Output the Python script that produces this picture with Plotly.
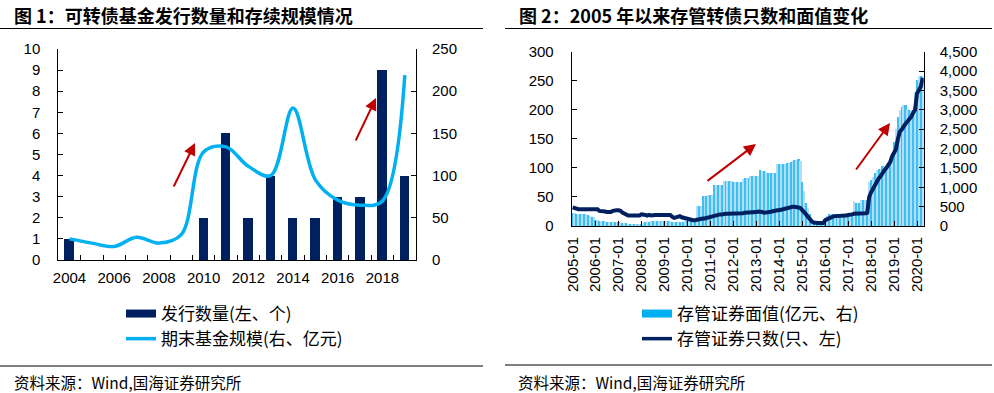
import plotly.graph_objects as go

# ---------------- Data: Figure 1 ----------------
years = list(range(2004, 2020))
issue_count = [1, 0, 0, 0, 0, 0, 2, 6, 2, 4, 2, 2, 3, 3, 9, 4]
fund_size = [25, 20, 16, 27, 20, 30, 128, 134, 111, 100, 180, 95, 71, 65, 70, 219]
year_ticks = [2004, 2006, 2008, 2010, 2012, 2014, 2016, 2018]

# ---------------- Data: Figure 2 ----------------
months = [f"{y}-{m:02d}" for y in range(2005, 2021) for m in range(1, 13)][:184]
month_ticks = [f"{y}-01" for y in range(2005, 2021)]

face_value = [
    335, 335, 330, 330, 325, 320, 315, 310, 300, 270, 250, 240,
    160, 150, 140, 130, 125, 120, 115, 112, 110, 110, 108, 105,
    100, 95, 90, 85, 80, 70, 60, 55, 50, 50, 48, 48,
    60, 80, 100, 110, 120, 125, 125, 125, 125, 125, 125, 125,
    125, 125, 125, 125, 120, 115, 110, 110, 110, 115, 120, 125,
    130, 130, 128, 125, 120, 520, 525, 530, 780, 785, 790, 800,
    810, 820, 1060, 1065, 1070, 1070, 1075, 1170, 1170, 1165, 1160, 1160,
    1155, 1150, 1140, 1140, 1140, 1230, 1240, 1250, 1260, 1290, 1290, 1290,
    1300, 1300, 1445, 1440, 1420, 1400, 1380, 1370, 1370, 1375, 1380, 1610,
    1610, 1615, 1620, 1620, 1630, 1640, 1660, 1680, 1700, 1720, 1745, 1690,
    1150, 900, 600, 480, 330, 160, 80, 30, 25, 25, 25, 30,
    200, 260, 320, 325, 330, 330, 330, 330, 330, 330, 330, 330,
    330, 330, 330, 645, 610, 600, 600, 670, 670, 670, 670, 1140,
    1200, 1280, 1380, 1445, 1480, 1490, 1550, 1540, 1560, 1580, 1600, 1900,
    2180, 2500, 2820, 3000, 3080, 3120, 3120, 3040, 3000, 2990, 3000, 3460,
    3780, 3870, 3870, 3870,
]

bond_count = [
    32, 31, 29, 29, 29, 29, 29, 29, 29, 29, 29, 29,
    29, 29, 26, 26, 25, 25, 24, 24, 24, 26, 27, 27,
    27, 26, 23, 21, 18, 18, 18, 18, 18, 18, 18, 18,
    20, 20, 19, 18, 19, 18, 19, 19, 19, 19, 19, 19,
    19, 19, 19, 19, 16, 14, 15, 16, 17, 15, 14, 13,
    12, 11, 11, 10, 10, 11, 11, 12, 13, 13, 14, 15,
    16, 16, 17, 18, 19, 20, 20, 21, 21, 21, 21, 22,
    22, 22, 22, 22, 22, 22, 23, 23, 23, 23, 23, 24,
    24, 25, 25, 24, 23, 23, 23, 24, 25, 26, 26, 27,
    27, 28, 29, 30, 31, 32, 32, 33, 33, 33, 32, 31,
    28, 24, 20, 16, 11, 8, 6, 5, 5, 5, 5, 5,
    10, 12, 14, 15, 16, 17, 17, 17, 17, 18, 18, 18,
    19, 19, 20, 21, 21, 21, 21, 22, 22, 22, 23, 50,
    58, 65, 72, 78, 82, 86, 92, 96, 100, 106, 110, 120,
    125, 132, 150, 162, 166, 172, 176, 180, 184, 188, 195, 200,
    228, 235, 240, 255,
]

# ---------------- Styling ----------------
W, H = 994, 393
NAVY = "#002060"
CYAN = "#00B0F0"
LIGHT = "#B0DDF7"
RED = "#C00000"
NUM_FONT = "Liberation Sans, Arial, sans-serif"
CJK_FONT = "Noto Sans CJK SC, sans-serif"

def px(x):
    return x / W

def py(y):
    return 1 - y / H

bar_colors = [("#3DBFF2" if i % 2 == 0 else LIGHT) for i in range(len(months))]

fig = go.Figure()
# actual marks
fig.add_trace(go.Bar(
    x=years, y=issue_count, name="发行数量(左、个)", marker=dict(color=NAVY, line_width=0),
    width=0.42, xaxis="x", yaxis="y", showlegend=False))
fig.add_trace(go.Scatter(
    x=years, y=fund_size, name="期末基金规模(右、亿元)", mode="lines",
    line=dict(color=CYAN, width=3.5, shape="spline", smoothing=1.0),
    xaxis="x", yaxis="y2", showlegend=False))
fig.add_trace(go.Bar(
    x=months, y=face_value, name="存管证券面值(亿元、右)",
    marker=dict(color=bar_colors, line_width=0),
    xaxis="x2", yaxis="y3", showlegend=False))
fig.add_trace(go.Scatter(
    x=months, y=bond_count, name="存管证券只数(只、左)", mode="lines",
    line=dict(color=NAVY, width=4),
    xaxis="x2", yaxis="y4", showlegend=False))

# legend proxies (wide rectangle swatches like the original)
legend_items = [
    ("发行数量(左、个)", NAVY, 8, "legend", "x", "y"),
    ("期末基金规模(右、亿元)", CYAN, 3.5, "legend", "x", "y2"),
    ("存管证券面值(亿元、右)", CYAN, 8, "legend2", "x2", "y3"),
    ("存管证券只数(只、左)", NAVY, 3.5, "legend2", "x2", "y4"),
]
for i, (name, color, w, lg, xa, ya) in enumerate(legend_items):
    fig.add_trace(go.Scatter(x=[None], y=[None], name=name, mode="lines",
                             line=dict(color=color, width=w), legend=lg,
                             legendgroup=f"g{i}", xaxis=xa, yaxis=ya, showlegend=True))

tickfont = dict(family=NUM_FONT, size=15, color="black")
common = dict(showline=True, linecolor="black", linewidth=1, showgrid=False,
              zeroline=False, tickfont=tickfont, tickcolor="black", automargin=False)

fig.update_layout(
    width=W, height=H, margin=dict(l=0, r=0, t=0, b=0, autoexpand=False),
    paper_bgcolor="white", plot_bgcolor="white", bargap=0,
    showlegend=True,
    xaxis=dict(domain=[px(58.3), px(416)], anchor="y", range=[2003.5, 2019.5],
               tickmode="array", tickvals=year_ticks, ticks="",
               minor=dict(tickmode="array", tickvals=[y + 0.5 for y in years[:-1]],
                          ticks="inside", ticklen=5, tickcolor="black", showgrid=False),
               ticklabelstandoff=4, **common),
    yaxis=dict(domain=[py(260), py(49)], anchor="x", range=[0, 10], dtick=1,
               ticks="inside", ticklen=5, side="left", ticklabelstandoff=14, **common),
    yaxis2=dict(overlaying="y", anchor="x", side="right", range=[0, 250], dtick=50,
                ticks="inside", ticklen=5, ticklabelstandoff=12, **common),
    xaxis2=dict(domain=[px(571.7), px(923.7)], anchor="y3", type="category",
                range=[-0.5, 183.5], tickmode="array", tickvals=month_ticks,
                tickangle=-90, ticks="inside", ticklen=5, ticklabelstandoff=4, **common),
    yaxis3=dict(domain=[py(226), py(51.7)], anchor="x2", side="right", range=[0, 4500],
                dtick=500, tickformat=",", ticks="inside", ticklen=5,
                ticklabelstandoff=12, **common),
    yaxis4=dict(overlaying="y3", anchor="x2", side="left", range=[0, 300], dtick=50,
                ticks="inside", ticklen=5, ticklabelstandoff=14, **common),
    legend=dict(x=px(121), y=py(296), xanchor="left", yanchor="top",
                font=dict(family=CJK_FONT, size=17, color="black"),
                bgcolor="rgba(0,0,0,0)", traceorder="normal", tracegroupgap=8,
                itemwidth=30),
    legend2=dict(x=px(637), y=py(296), xanchor="left", yanchor="top",
                 font=dict(family=CJK_FONT, size=17, color="black"),
                 bgcolor="rgba(0,0,0,0)", traceorder="normal", tracegroupgap=8,
                 itemwidth=30),
)

annotations = [
    dict(text="<b>图 1：可转债基金发行数量和存续规模情况</b>", x=px(12), y=py(15)),
    dict(text="<b>图 2：2005 年以来存管转债只数和面值变化</b>", x=px(517), y=py(15)),
]
anns = []
for a in annotations:
    anns.append(dict(text=a["text"], x=a["x"], y=a["y"], xref="paper", yref="paper",
                     xanchor="left", yanchor="middle", showarrow=False,
                     font=dict(family=CJK_FONT, size=18, color="black")))
for sx in (12, 516):
    anns.append(dict(text="资料来源：Wind,国海证券研究所", x=px(sx), y=py(381.5),
                     xref="paper", yref="paper", xanchor="left", yanchor="middle",
                     showarrow=False, font=dict(family=CJK_FONT, size=15.5, color="black")))

# decorative red arrows (head position, tail offset in pixels)
arrows = [((195, 143), (-22, 45)), ((376, 98), (-21, 44)),
          ((756, 144), (-50, 38)), ((890, 123), (-35, 48))]
for (hx, hy), (ax, ay) in arrows:
    anns.append(dict(x=px(hx), y=py(hy), xref="paper", yref="paper", text="",
                     showarrow=True, ax=ax, ay=ay, arrowcolor=RED, arrowwidth=2,
                     arrowhead=2, arrowsize=1.2))
fig.update_layout(annotations=anns)

shapes = [((0, 28.5), (483, 28.5)), ((505, 28.5), (992, 28.5)),
          ((0, 366), (483, 366)), ((505, 365), (992, 365))]
fig.update_layout(shapes=[dict(type="line", xref="paper", yref="paper",
                               x0=px(a[0]), y0=py(a[1]), x1=px(b[0]), y1=py(b[1]),
                               line=dict(color="black", width=1.2))
                          for a, b in shapes])

fig.write_html("out.html", config={"displayModeBar": False},
               post_script="document.body.style.margin='0';document.body.style.overflow='hidden';")
